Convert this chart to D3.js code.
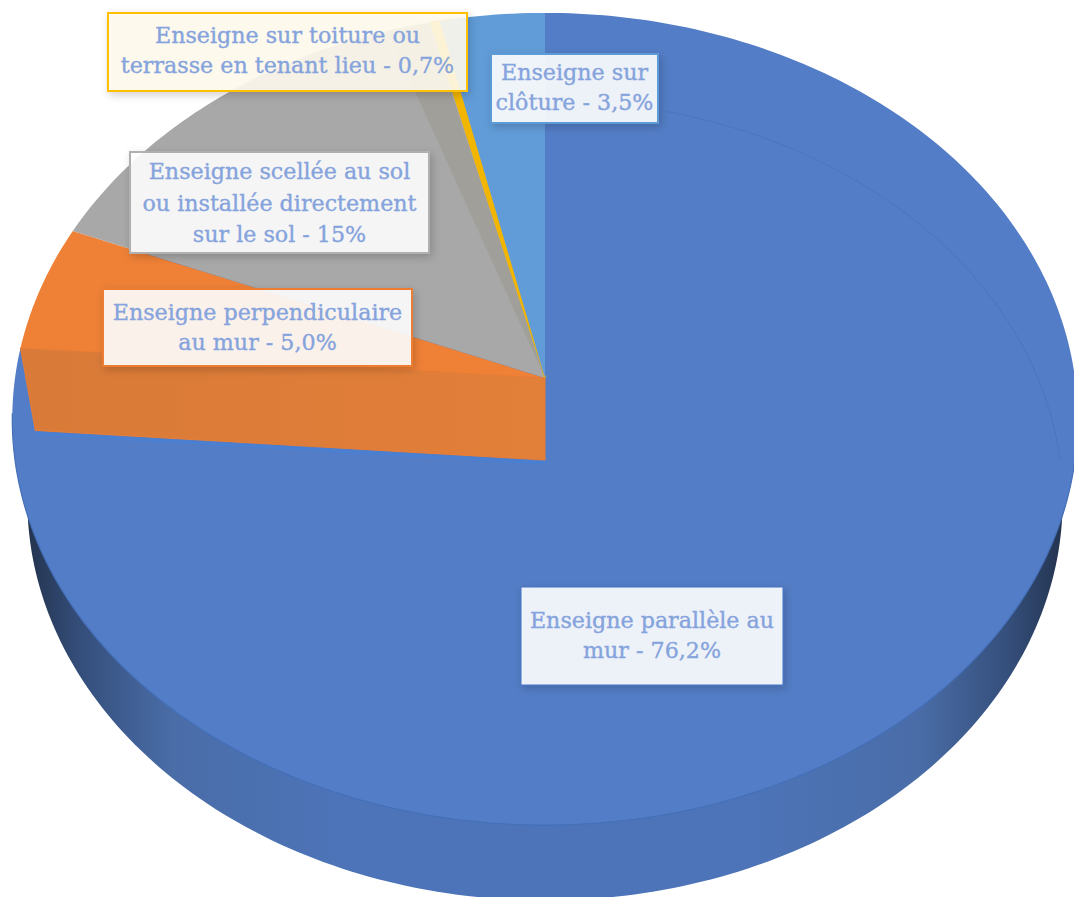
<!DOCTYPE html>
<html>
<head>
<meta charset="utf-8">
<script src="https://cdn.jsdelivr.net/npm/d3@7"></script>
<style>
  html, body { margin: 0; padding: 0; background: #fff; }
  svg { display: block; }
  text { font-family: "DejaVu Serif", serif; font-size: 22.2px; fill: #85a3dc; stroke: #85a3dc; stroke-width: 0.35px; text-anchor: middle; }
</style>
</head>
<body>
<script>
// values as printed on the labels (they add up to 100.4)
var categories = [
    ["Enseigne parallèle au", "mur"],
    ["Enseigne perpendiculaire", "au mur"],
    ["Enseigne scellée au sol", "ou installée directement", "sur le sol"],
    ["Enseigne sur toiture ou", "terrasse en tenant lieu"],
    ["Enseigne sur", "clôture"]
];
var values = [76.2, 5.0, 15, 0.7, 3.5];
var valueLabels = ["76,2%", "5,0%", "15%", "0,7%", "3,5%"];

var topColors = ["#537dc6", "#ef8136", "#a8a8a8", "#f2b600", "#619cd8"];
var borderColors = ["#4472c4", "#ed7d31", "#b0b0b0", "#ffc000", "#5b9bd5"];
var boxFills = ["#ffffff", "#ffffff", "#ffffff", "#fffaee", "#ffffff"];

// label boxes, left/top/right/bottom
var boxes = [
    [521, 587, 783, 685],
    [103, 289, 412, 366],
    [130, 152, 429, 253],
    [108, 13, 467, 91],
    [491, 54, 658, 123]
];
var firstBaseline = [628, 320, 179, 43, 80];
var lineSteps = [30, 30, 31.5, 30, 30];

var W = 1074, H = 897;
var svg = d3.select("body").append("svg").attr("width", W).attr("height", H);
var defs = svg.append("defs");

var shadow = defs.append("filter").attr("id", "shadow")
    .attr("x", "-10%").attr("y", "-10%").attr("width", "125%").attr("height", "130%");
shadow.append("feDropShadow")
    .attr("dx", 2).attr("dy", 3).attr("stdDeviation", 4)
    .attr("flood-color", "#000").attr("flood-opacity", 0.2);

var wallGrad = defs.append("linearGradient").attr("id", "wall");
[[0, "#24344f"], [0.05, "#344e7a"], [0.14, "#4a6da8"], [0.3, "#4d74b8"],
 [0.7, "#4d74b8"], [0.86, "#4a6da8"], [0.95, "#344e7a"], [1, "#24344f"]].forEach(function (s) {
    wallGrad.append("stop").attr("offset", s[0]).attr("stop-color", s[1]);
});
var orangeGrad = defs.append("linearGradient").attr("id", "orangeWall");
orangeGrad.append("stop").attr("offset", 0).attr("stop-color", "#d97a38");
orangeGrad.append("stop").attr("offset", 1).attr("stop-color", "#e27f39");

// percent -> degrees clockwise from 12 o'clock
var angle = d3.scaleLinear().domain([0, 100]).range([0, 360]);

// top face and bottom face of the disc, perspective seen from above
var faces = [
    { cx: 545, cy: 378, rx: 530, ry: 402 },
    { cx: 545, cy: 460, rx: 515, ry: 396 }
];
var persp = 0.101;

function project(deg, r, level) {
    var f = faces[level];
    var a = deg * Math.PI / 180;
    var u = r * Math.sin(a), v = r * Math.cos(a);
    var k = 1 + persp * v;
    return [f.cx + f.rx * u / k, f.cy - f.ry * v / k];
}
function rim(from, to, level) {
    var n = Math.ceil(Math.abs(to - from));
    return d3.range(n + 1).map(function (i) {
        return project(from + (to - from) * i / n, 1, level);
    });
}
var line = d3.line();
function wedge(from, to, level) {
    return line([project(0, 0, level)].concat(rim(from, to, level))) + "Z";
}

// slice limits; the last slice is pulled back so the disc closes at 100
var ends = Array.from(d3.cumsum(values));
var starts = ends.map(function (e, i) { return e - values[i]; });
var last = values.length - 1;
ends[last] = 100;
starts[last] = 100 - values[last];

// side wall
svg.append("path")
    .attr("d", line(rim(0, 360, 1)) + "Z")
    .attr("fill", "url(#wall)");

// top faces
svg.append("g").selectAll("path")
    .data(values)
    .join("path")
    .attr("d", function (d, i) { return wedge(angle(starts[i]), angle(ends[i]), 0); })
    .attr("fill", function (d, i) { return topColors[i]; })
    .attr("stroke", function (d, i) { return i === 3 ? topColors[i] : "none"; })
    .attr("stroke-width", 2);

// darker inner band along the grey slice
svg.append("path")
    .attr("d", wedge(angle(ends[2]) - 5.3, angle(ends[2]) - 0.3, 0))
    .attr("fill", "#a09f9a");

// far edge of the disc seen through the blue face
svg.append("path")
    .attr("d", line(rim(15, 90, 1)))
    .attr("fill", "none")
    .attr("stroke", "#4c75bb")
    .attr("stroke-width", 1);

// front edge of the top face
svg.append("path")
    .attr("d", line(rim(95, 265, 0)))
    .attr("fill", "none")
    .attr("stroke", "#4470b8")
    .attr("stroke-width", 1.2);

// cut wall between the blue and orange slices
var cut = angle(ends[0]);
svg.append("path")
    .attr("d", line([project(0, 0, 0), project(cut, 1, 0), project(cut, 1, 1), project(0, 0, 1)]) + "Z")
    .attr("fill", "url(#orangeWall)")
    .attr("stroke", "#ea7d33")
    .attr("stroke-width", 1);
svg.append("path")
    .attr("d", line([project(cut, 1, 1), project(0, 0, 1)]))
    .attr("fill", "none")
    .attr("stroke", "#4a7fd2")
    .attr("stroke-width", 3)
    .attr("transform", "translate(0,3)");

// boxes and their text
var labels = svg.append("g").selectAll("g")
    .data(values)
    .join("g");
labels.append("rect")
    .attr("x", function (d, i) { return boxes[i][0]; })
    .attr("y", function (d, i) { return boxes[i][1]; })
    .attr("width", function (d, i) { return boxes[i][2] - boxes[i][0]; })
    .attr("height", function (d, i) { return boxes[i][3] - boxes[i][1]; })
    .attr("fill", function (d, i) { return boxFills[i]; })
    .attr("fill-opacity", 0.89)
    .attr("stroke", function (d, i) { return borderColors[i]; })
    .attr("stroke-width", function (d, i) { return i === 0 ? 1 : 2; })
    .attr("filter", "url(#shadow)");
labels.each(function (d, i) {
    var g = d3.select(this);
    var lines = categories[i].slice();
    lines[lines.length - 1] += " - " + valueLabels[i];
    lines.forEach(function (t, j) {
        g.append("text")
            .attr("x", (boxes[i][0] + boxes[i][2]) / 2)
            .attr("y", firstBaseline[i] + j * lineSteps[i])
            .text(t);
    });
});
</script>
</body>
</html>
